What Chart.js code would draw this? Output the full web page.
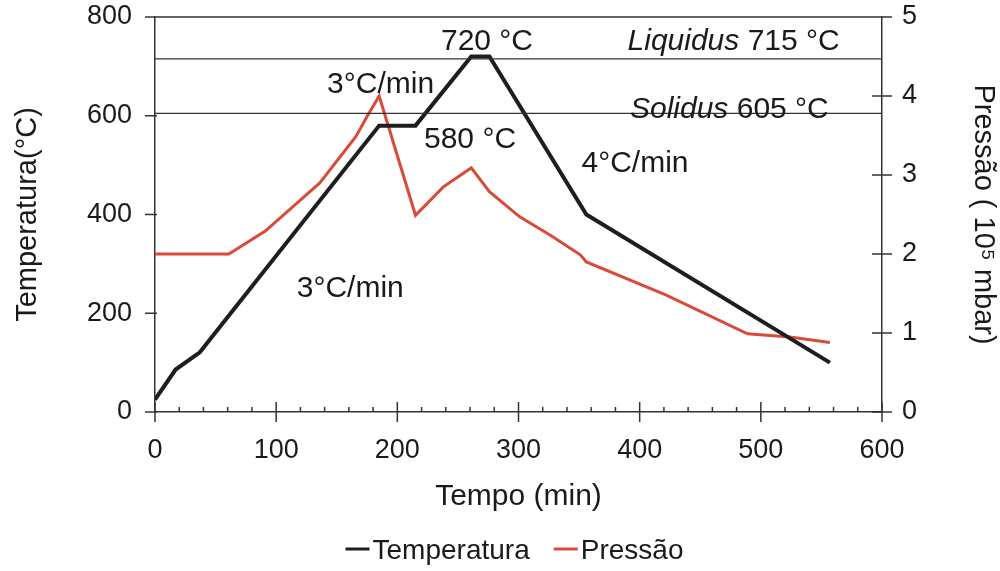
<!DOCTYPE html>
<html>
<head>
<meta charset="utf-8">
<script src="https://cdn.jsdelivr.net/npm/chart.js@4.4.0/dist/chart.umd.min.js"></script>
<style>
  html, body { margin: 0; background: #fff; }
  canvas { display: block; }
</style>
</head>
<body>
<canvas id="grafico" width="1000" height="571"></canvas>
<script>
// Ciclo térmico: tempo (min) x temperatura (°C)
const tempoTemp = [0, 17, 37, 185, 215, 261, 276, 356, 557];
const temperatura = [25, 86, 121, 580, 580, 720, 720, 400, 100];

// Pressão (10^5 mbar) registrada no mesmo ciclo
const tempoPressao = [0, 61, 91, 136, 166, 175, 185, 215, 238, 261, 276, 301, 326, 351, 356, 422, 489, 524, 557];
const pressao = [2.0, 2.0, 2.29, 2.9, 3.49, 3.74, 4.0, 2.49, 2.85, 3.09, 2.79, 2.47, 2.24, 1.99, 1.9, 1.48, 0.99, 0.95, 0.88];

// Linhas de referência da liga
const liquidus = 715;
const solidus = 605;

// Eixos
const ticksTempo = [0, 100, 200, 300, 400, 500, 600];
const ticksTemp = [0, 200, 400, 600, 800];
const ticksPressao = [0, 1, 2, 3, 4, 5];

// Textos sobre o gráfico, ancorados em (tempo, temperatura); [texto, itálico]
const anotacoes = [
  {t: 236, T: 734, partes: [["720 °C", false]]},
  {t: 142, T: 646, partes: [["3°C/min", false]]},
  {t: 222, T: 535, partes: [["580 °C", false]]},
  {t: 390, T: 734, partes: [["Liquidus", true], [" 715 °C", false]]},
  {t: 392, T: 596, partes: [["Solidus", true], [" 605 °C", false]]},
  {t: 352, T: 487, partes: [["4°C/min", false]]},
  {t: 117, T: 232, partes: [["3°C/min", false]]}
];

const FONTE = '"Liberation Sans", Arial, sans-serif';
const COR_TEXTO = "#1a1a1a";
const COR_EIXO = "#333";
const COR_TEMP = "#1e1e1e";
const COR_PRESSAO = "#d94a3a";

const pares = (xs, ys) => xs.map((x, i) => ({x, y: ys[i]}));
const horizontal = (v) => [{x: 0, y: v}, {x: 600, y: v}];

// Eixo vertical com largura fixa e sem folga extra acima/abaixo dos rótulos
const ajustaVertical = (largura) => (s) => {
  s.width = largura;
  s.paddingTop = 0;
  s.paddingBottom = 0;
};

// Marcas dos eixos (cruzando a linha), borda superior, anotações e legenda
const desenhoExtra = {
  id: "desenhoExtra",
  afterDraw(chart) {
    const {ctx, chartArea: a, scales: {x, y, y1}} = chart;
    ctx.save();
    ctx.strokeStyle = COR_EIXO;
    ctx.lineWidth = 1.5;
    ctx.beginPath();
    ctx.moveTo(a.left, a.top);
    ctx.lineTo(a.right, a.top);
    for (let v = 0; v <= 600; v += 20) {
      const px = x.getPixelForValue(v);
      const maior = v % 100 === 0;
      ctx.moveTo(px, a.bottom - (maior ? 10 : 5));
      ctx.lineTo(px, a.bottom + (maior ? 10 : 0));
    }
    ticksTemp.forEach(v => {
      const py = y.getPixelForValue(v);
      ctx.moveTo(a.left - 10, py);
      ctx.lineTo(a.left + 2, py);
    });
    ticksPressao.forEach(v => {
      const py = y1.getPixelForValue(v);
      ctx.moveTo(a.right - 10, py);
      ctx.lineTo(a.right + 10, py);
    });
    ctx.stroke();

    ctx.fillStyle = COR_TEXTO;
    ctx.textBaseline = "alphabetic";
    ctx.textAlign = "left";
    anotacoes.forEach(an => {
      let px = x.getPixelForValue(an.t);
      const py = y.getPixelForValue(an.T);
      an.partes.forEach(([txt, italico]) => {
        ctx.font = (italico ? "italic " : "") + "30px " + FONTE;
        ctx.fillText(txt, px, py);
        px += ctx.measureText(txt).width;
      });
    });

    // legenda
    ctx.font = "28px " + FONTE;
    ctx.textBaseline = "middle";
    const itens = chart.data.datasets.filter(d => d.label);
    const linha = 24, folga = 3, espaco = 24;
    const larguras = itens.map(d => ctx.measureText(d.label).width);
    const total = larguras.reduce((s, w) => s + linha + folga + w, 0) + espaco * (itens.length - 1);
    let lx = (a.left + a.right) / 2 - total / 2 - 4;
    const ly = 551;
    itens.forEach((d, i) => {
      ctx.strokeStyle = d.borderColor;
      ctx.lineWidth = 3;
      ctx.beginPath();
      ctx.moveTo(lx, ly - 2);
      ctx.lineTo(lx + linha, ly - 2);
      ctx.stroke();
      lx += linha + folga;
      ctx.fillText(d.label, lx, ly);
      lx += larguras[i] + espaco;
    });
    ctx.restore();
  }
};

new Chart(document.getElementById("grafico"), {
  type: "line",
  data: {
    datasets: [
      {label: "", data: horizontal(liquidus), yAxisID: "y", borderColor: COR_EIXO, borderWidth: 1.2, pointRadius: 0},
      {label: "", data: horizontal(solidus), yAxisID: "y", borderColor: COR_EIXO, borderWidth: 1.2, pointRadius: 0},
      {label: "Temperatura", data: pares(tempoTemp, temperatura), yAxisID: "y",
        borderColor: COR_TEMP, backgroundColor: COR_TEMP, borderWidth: 4, pointRadius: 0, tension: 0},
      {label: "Pressão", data: pares(tempoPressao, pressao), yAxisID: "y1",
        borderColor: COR_PRESSAO, backgroundColor: COR_PRESSAO, borderWidth: 3, pointRadius: 0, tension: 0}
    ]
  },
  options: {
    responsive: false,
    animation: false,
    devicePixelRatio: 1,
    layout: {padding: {top: 17, left: 0, right: 0, bottom: 0}},
    plugins: {legend: {display: false}, tooltip: {enabled: false}},
    scales: {
      x: {
        type: "linear", min: 0, max: 600,
        afterBuildTicks: s => { s.ticks = ticksTempo.map(value => ({value})); },
        afterFit: s => { s.height = 159; },
        grid: {display: false, drawTicks: false},
        border: {display: true, color: COR_EIXO, width: 1.5},
        ticks: {font: {family: FONTE, size: 27}, color: COR_TEXTO, padding: 22, maxRotation: 0},
        title: {display: true, text: "Tempo (min)", font: {family: FONTE, size: 30}, color: COR_TEXTO, padding: {bottom: 56}}
      },
      y: {
        position: "left", min: 0, max: 800,
        afterBuildTicks: s => { s.ticks = ticksTemp.map(value => ({value})); },
        afterFit: ajustaVertical(155),
        grid: {display: false, drawTicks: false},
        border: {display: true, color: COR_EIXO, width: 1.5},
        ticks: {font: {family: FONTE, size: 27}, color: COR_TEXTO, padding: 23},
        title: {display: true, text: "Temperatura(°C)", font: {family: FONTE, size: 29}, color: COR_TEXTO, padding: {top: 11}}
      },
      y1: {
        position: "right", min: 0, max: 5,
        afterBuildTicks: s => { s.ticks = ticksPressao.map(value => ({value})); },
        afterFit: ajustaVertical(118),
        grid: {display: false, drawTicks: false},
        border: {display: true, color: COR_EIXO, width: 1.5},
        ticks: {font: {family: FONTE, size: 27}, color: COR_TEXTO, padding: 20},
        title: {display: true, text: "Pressão ( 10⁵ mbar)", font: {family: FONTE, size: 29}, color: COR_TEXTO, padding: {top: 0}}
      }
    }
  },
  plugins: [desenhoExtra]
});
</script>
</body>
</html>
